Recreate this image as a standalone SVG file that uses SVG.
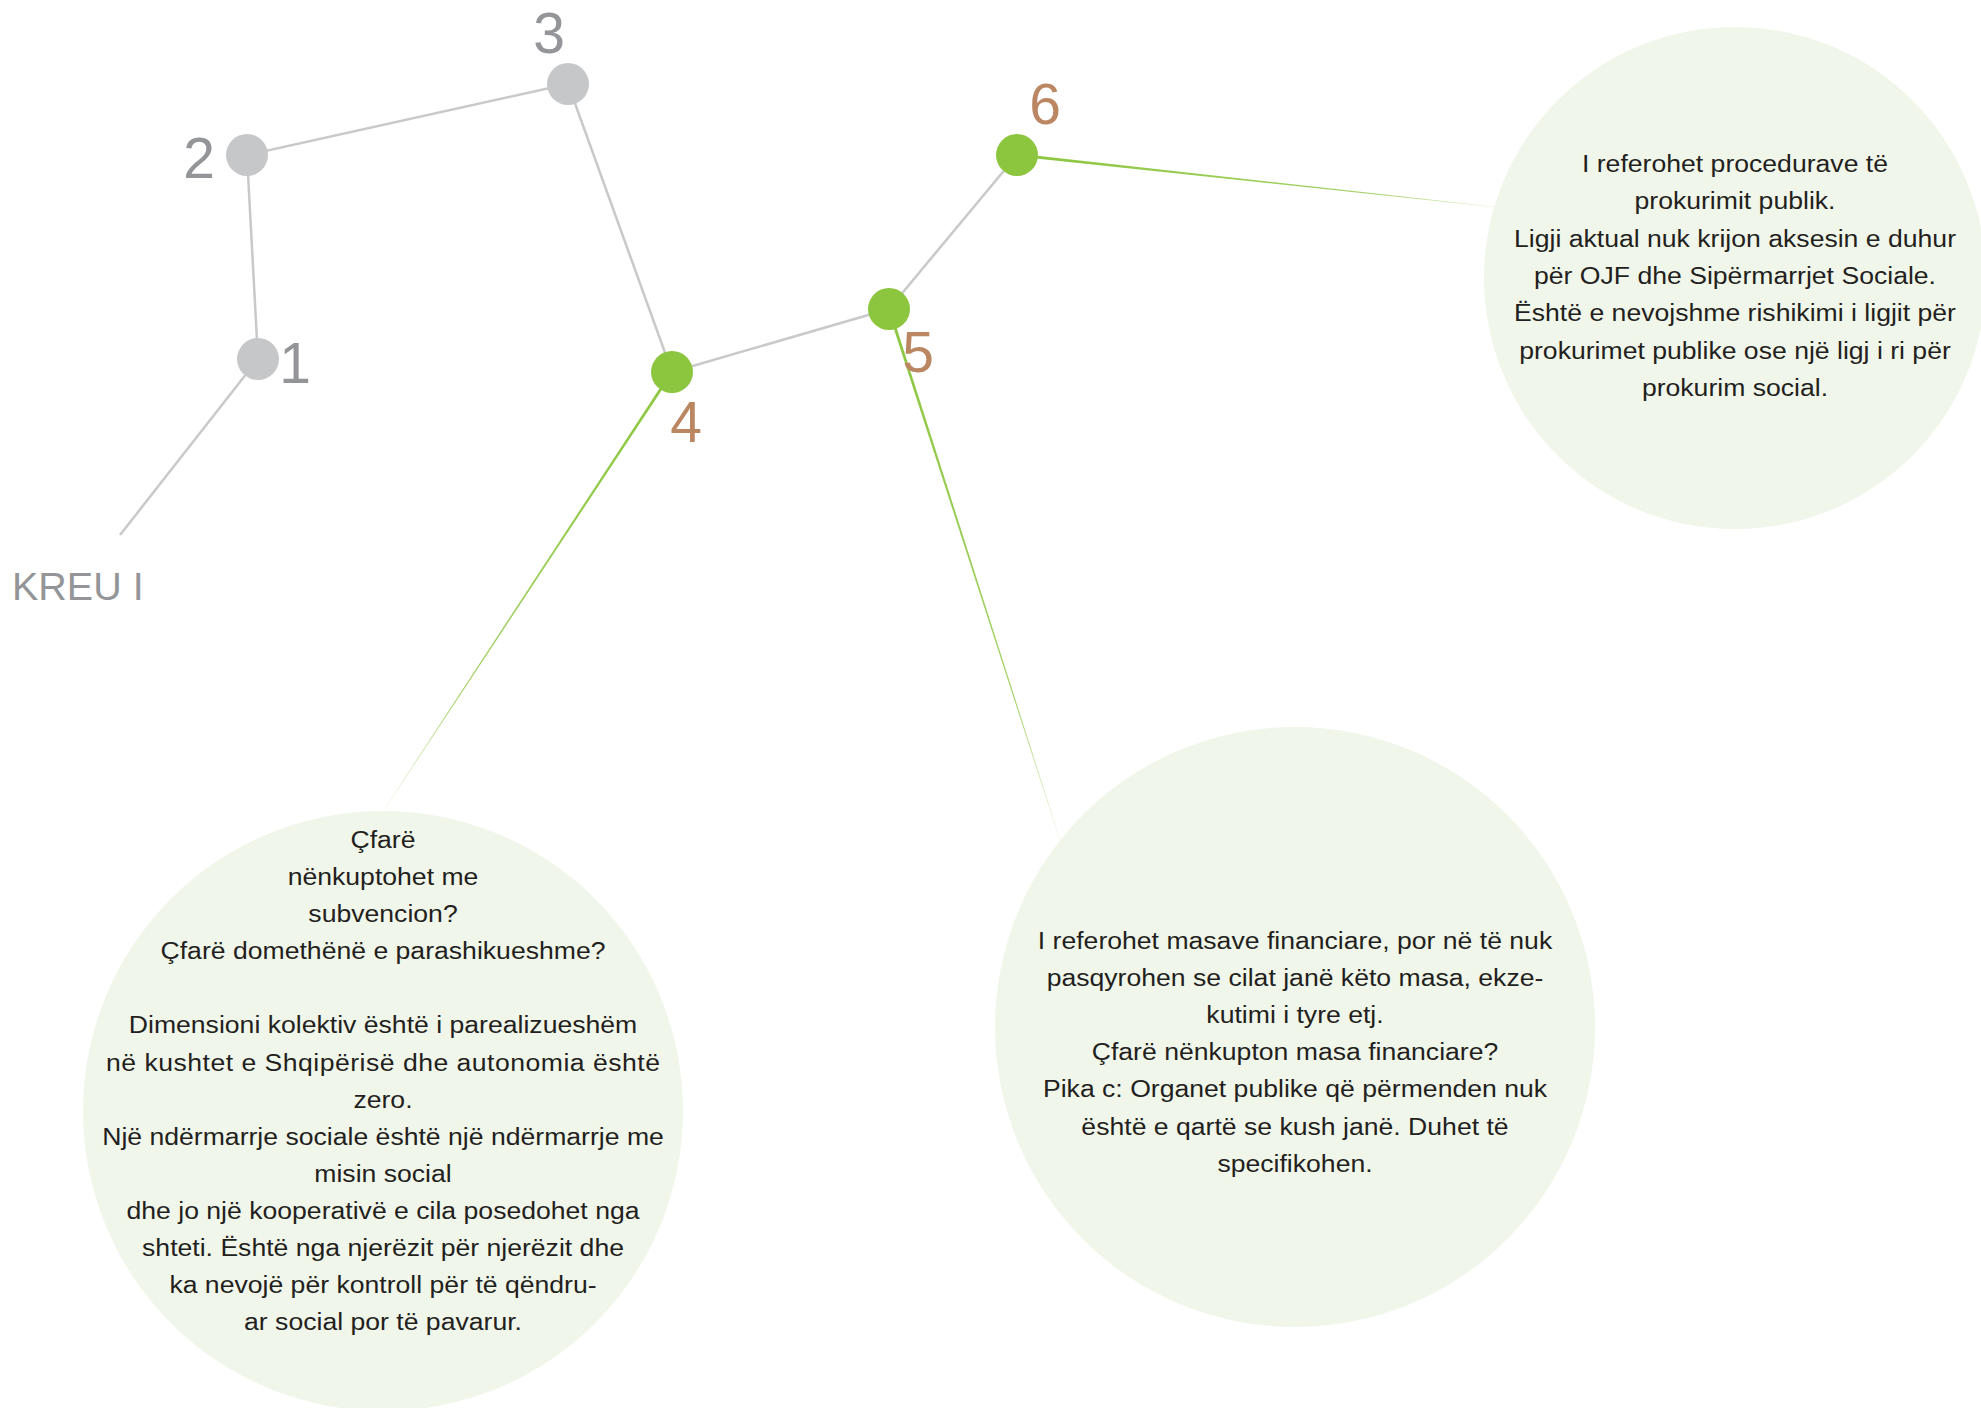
<svg xmlns="http://www.w3.org/2000/svg" width="1981" height="1408" viewBox="0 0 1981 1408">
<style>
.bubble{fill:#f1f6ea}
.body{font-family:"Liberation Sans",Arial,sans-serif;font-size:24.5px;fill:#231f20;text-anchor:middle}
.grey{fill:#c6c7c9}
.green{fill:#8cc63f}
.gl{stroke:#c8c9cb;stroke-width:2.5;fill:none}
.num{font-family:"Liberation Sans",Arial,sans-serif;font-size:57px;text-anchor:middle}
.ng{fill:#939598}
.nb{fill:#bb8763}
</style>
<defs>
<linearGradient id="g4" gradientUnits="userSpaceOnUse" x1="672" y1="372" x2="384" y2="810"><stop offset="0" stop-color="#8cc63f"/><stop offset="0.75" stop-color="#8cc63f" stop-opacity="0.8"/><stop offset="1" stop-color="#8cc63f" stop-opacity="0.2"/></linearGradient>
<linearGradient id="g5" gradientUnits="userSpaceOnUse" x1="889" y1="309" x2="1060" y2="840"><stop offset="0" stop-color="#8cc63f"/><stop offset="0.75" stop-color="#8cc63f" stop-opacity="0.8"/><stop offset="1" stop-color="#8cc63f" stop-opacity="0.2"/></linearGradient>
<linearGradient id="g6" gradientUnits="userSpaceOnUse" x1="1017" y1="155" x2="1495" y2="207"><stop offset="0" stop-color="#8cc63f"/><stop offset="0.75" stop-color="#8cc63f" stop-opacity="0.8"/><stop offset="1" stop-color="#8cc63f" stop-opacity="0.2"/></linearGradient>
</defs>
<rect width="1981" height="1408" fill="#ffffff"/>

<g id="note-6">
<circle class="bubble" cx="1735" cy="278" r="251"/>
<g transform="translate(1735 0) scale(1.086 1)">
<text class="body" x="0" y="172">I referohet procedurave të</text>
<text class="body" x="0" y="209.3">prokurimit publik.</text>
<text class="body" x="0" y="246.6">Ligji aktual nuk krijon aksesin e duhur</text>
<text class="body" x="0" y="284">për OJF dhe Sipërmarrjet Sociale.</text>
<text class="body" x="0" y="321.3">Është e nevojshme rishikimi i ligjit për</text>
<text class="body" x="0" y="358.6">prokurimet publike ose një ligj i ri për</text>
<text class="body" x="0" y="396">prokurim social.</text>
</g>
</g>

<g id="note-4">
<circle class="bubble" cx="383" cy="1111" r="300"/>
<g transform="translate(383 0) scale(1.086 1)">
<text class="body" x="0" y="848">Çfarë</text>
<text class="body" x="0" y="885.1">nënkuptohet me</text>
<text class="body" x="0" y="922.2">subvencion?</text>
<text class="body" x="0" y="959.3">Çfarë domethënë e parashikueshme?</text>
<text class="body" x="0" y="1033.5">Dimensioni kolektiv është i parealizueshëm</text>
<text class="body" x="0" y="1070.6" textLength="510" lengthAdjust="spacing">në kushtet e Shqipërisë dhe autonomia është</text>
<text class="body" x="0" y="1107.7">zero.</text>
<text class="body" x="0" y="1144.8">Një ndërmarrje sociale është një ndërmarrje me</text>
<text class="body" x="0" y="1181.9">misin social</text>
<text class="body" x="0" y="1219">dhe jo një kooperativë e cila posedohet nga</text>
<text class="body" x="0" y="1256.1">shteti. Është nga njerëzit për njerëzit dhe</text>
<text class="body" x="0" y="1293.2">ka nevojë për kontroll për të qëndru-</text>
<text class="body" x="0" y="1330.3">ar social por të pavarur.</text>
</g>
</g>

<g id="note-5">
<circle class="bubble" cx="1295" cy="1027" r="300"/>
<g transform="translate(1295 0) scale(1.086 1)">
<text class="body" x="0" y="948.6">I referohet masave financiare, por në të nuk</text>
<text class="body" x="0" y="985.8">pasqyrohen se cilat janë këto masa, ekze-</text>
<text class="body" x="0" y="1023">kutimi i tyre etj.</text>
<text class="body" x="0" y="1060.2">Çfarë nënkupton masa financiare?</text>
<text class="body" x="0" y="1097.4">Pika c: Organet publike që përmenden nuk</text>
<text class="body" x="0" y="1134.6">është e qartë se kush janë. Duhet të</text>
<text class="body" x="0" y="1171.8">specifikohen.</text>
</g>
</g>

<g id="connectors">
<line class="gl" x1="258" y1="359" x2="120" y2="535"/>
<line class="gl" x1="258" y1="359" x2="247" y2="155"/>
<line class="gl" x1="247" y1="155" x2="568" y2="84"/>
<line class="gl" x1="568" y1="84" x2="672" y2="372"/>
<line class="gl" x1="672" y1="372" x2="889" y2="309"/>
<line class="gl" x1="889" y1="309" x2="1017" y2="155"/>
<polygon fill="url(#g4)" points="673.25,372.82 670.75,371.18 383.83,809.89 384.17,810.11"/>
<polygon fill="url(#g5)" points="890.43,308.54 887.57,309.46 1059.81,840.06 1060.19,839.94"/>
<polygon fill="url(#g6)" points="1016.84,156.49 1017.16,153.51 1495.02,206.8 1494.98,207.2"/>
</g>

<g id="kreu">
<text x="12" y="600" font-family="Liberation Sans, Arial, sans-serif" font-size="39.5" fill="#939598">KREU I</text>
</g>
<g id="node-1">
<circle class="grey" cx="258" cy="359" r="21"/>
<text class="num ng" x="295" y="383">1</text>
</g>
<g id="node-2">
<circle class="grey" cx="247" cy="155" r="21"/>
<text class="num ng" x="199" y="178">2</text>
</g>
<g id="node-3">
<circle class="grey" cx="568" cy="84" r="21"/>
<text class="num ng" x="549" y="53">3</text>
</g>
<g id="node-4">
<circle class="green" cx="672" cy="372" r="21"/>
<text class="num nb" x="686" y="442">4</text>
</g>
<g id="node-5">
<circle class="green" cx="889" cy="309" r="21"/>
<text class="num nb" x="918" y="372">5</text>
</g>
<g id="node-6">
<circle class="green" cx="1017" cy="155" r="21"/>
<text class="num nb" x="1045" y="124">6</text>
</g>
</svg>
